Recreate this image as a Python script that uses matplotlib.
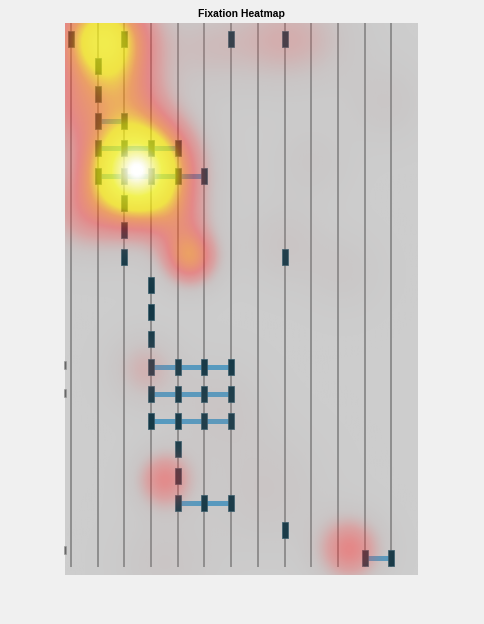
import numpy as np
import matplotlib
matplotlib.use('Agg')
import matplotlib.pyplot as plt
from matplotlib.colors import LinearSegmentedColormap

# ---- data ----
# marker columns for each code row (rows 1..20)
marker_cols = [
    [1, 3, 7, 9], [2], [2], [2, 3], [2, 3, 4, 5], [2, 3, 4, 5, 6],
    [3], [3], [3, 9], [4], [4], [4], [4, 5, 6, 7], [4, 5, 6, 7],
    [4, 5, 6, 7], [5], [5], [5, 6, 7], [9], [12, 13],
]
grid_cols = list(range(1, 14))

# fixation blobs for the heat layer (col, row, weight, spread)
heat_col = [2.2, 3.47, 5.46, 5.1, 3.0, 1.0, 1.3, 6.0, 8.6, 10.4, 3.77, 4.5, 11.45,
            9.0, 8.3, 4.5, 12.8, 11.2, 6.5, 10.0]
heat_row = [1.0, 5.8, 9.0, 7.6, 3.0, 3.5, 7.5, 1.3, 1.0, 1.0, 13.1, 17.15, 19.7,
            8.5, 17.5, 20.2, 3.3, 9.5, 14.5, 5.5]
heat_weight = [0.7, 1.0, 0.4, 0.13, 0.2, 0.2, 0.15, 0.1, 0.13, 0.08, 0.15, 0.28, 0.3,
               0.08, 0.08, 0.08, 0.07, 0.06, 0.08, 0.06]
heat_sigma = [1.2, 1.35, 0.72, 0.8, 1.0, 1.0, 1.0, 1.2, 1.3, 1.2, 0.9, 0.75, 0.85,
              1.0, 1.5, 1.2, 1.0, 1.0, 1.2, 1.0]

# small clipped marks on the left edge
edge_rows = [12.95, 13.95, 19.7]

X0, X1 = 0.775, 14.0
Y0, Y1 = 0.414, 20.63

fig = plt.figure(figsize=(4.84, 6.24), dpi=100, facecolor='#f0f0f0')
ax = fig.add_axes([65 / 484, 49 / 624, 353 / 484, 552 / 624])
ax.set_facecolor('#d2d2d2')

# vertical column lines
ax.vlines(grid_cols, Y0, 20.34, colors='#7c7c7c', lw=1.1, zorder=1)

# connectors between adjacent markers
rect = [(-0.15, -0.5), (0.15, -0.5), (0.15, 0.5), (-0.15, 0.5), (-0.15, -0.5)]
for r, cols in enumerate(marker_cols, start=1):
    for a, b in zip(cols[:-1], cols[1:]):
        if b - a == 1:
            ax.plot([a, b], [r, r], color='#4f9cc6', lw=3.6, solid_capstyle='butt', zorder=2)
    ax.plot(cols, [r] * len(cols), ls='none', marker=rect, ms=12.2,
            mfc='#08303f', mec='#2b5566', mew=0.5, zorder=3)

ax.plot([X0] * len(edge_rows), edge_rows, ls='none', marker=rect, ms=5.8,
        mfc='#666666', mec='#999999', mew=0.4, clip_on=False, zorder=3)

# heat overlay
xs = np.linspace(X0, X1, 330)
ys = np.linspace(Y0, Y1, 500)
XX, YY = np.meshgrid(xs, ys)
H = np.zeros_like(XX)
for cx, cy, w, s in zip(heat_col, heat_row, heat_weight, heat_sigma):
    H += w * np.exp(-((XX - cx) ** 2 + (YY - cy) ** 2) / (2 * s ** 2))
H = np.clip(H, 0, 1)

cmap = LinearSegmentedColormap.from_list('fix', [
    (0.0, (140 / 255, 140 / 255, 140 / 255)),
    (0.08, (165 / 255, 140 / 255, 140 / 255)),
    (0.18, (225 / 255, 90 / 255, 90 / 255)),
    (0.3, (250 / 255, 50 / 255, 50 / 255)),
    (0.45, (1.0, 120 / 255, 20 / 255)),
    (0.58, (1.0, 235 / 255, 0.0)),
    (0.8, (1.0, 1.0, 30 / 255)),
    (0.95, (1.0, 1.0, 190 / 255)),
    (1.0, (1.0, 1.0, 1.0)),
])
rgba = cmap(H)
rgba[..., 3] = np.interp(H, [0, 0.1, 0.2, 0.35, 0.5, 0.6, 0.85, 0.97, 1.0],
                         [0.07, 0.2, 0.38, 0.5, 0.6, 0.68, 0.72, 0.88, 1.0])
ax.imshow(rgba, extent=(X0, X1, Y1, Y0), aspect='auto', interpolation='bilinear',
          origin='upper', zorder=5)

ax.set_xlim(X0, X1)
ax.set_ylim(Y1, Y0)
ax.set_xticks([])
ax.set_yticks([])
for sp in ax.spines.values():
    sp.set_visible(False)
ax.set_title('Fixation Heatmap', fontsize=7.5, fontweight='bold', pad=4,
             family='Liberation Sans')

fig.savefig('out.png', dpi=100, facecolor=fig.get_facecolor())
